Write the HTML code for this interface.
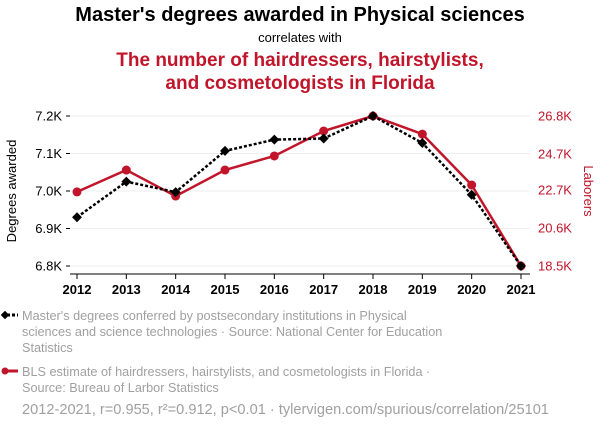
<!DOCTYPE html>
<html><head><meta charset="utf-8"><style>
body{margin:0;width:600px;height:430px;background:#fff;font-family:"Liberation Sans",sans-serif;overflow:hidden}
svg{position:absolute;left:0;top:0}
</style></head><body>
<svg id="c" width="600" height="430">
<text x="300" y="21" text-anchor="middle" font-size="20" font-weight="bold" fill="#000">Master's degrees awarded in Physical sciences</text>
<text x="300" y="42" text-anchor="middle" font-size="13" fill="#000">correlates with</text>
<text x="300" y="66" text-anchor="middle" font-size="19" font-weight="bold" fill="#c0152a">The number of hairdressers, hairstylists,</text>
<text x="300" y="89" text-anchor="middle" font-size="19" font-weight="bold" fill="#c0152a">and cosmetologists in Florida</text>
<text transform="translate(16,191) rotate(-90)" text-anchor="middle" font-size="13" fill="#000">Degrees awarded</text>
<text transform="translate(584,191) rotate(90)" text-anchor="middle" font-size="13" fill="#c0152a">Laborers</text>
<g id="grid"></g><g id="axes"></g><g id="series"></g>
<g font-size="12.7" fill="#a0a0a0">
<line x1="2" y1="315" x2="18" y2="315" stroke="#000" stroke-width="3" stroke-dasharray="3,2"/>
<rect x="2" y="312" width="6" height="6" transform="rotate(45 5 315)" fill="#000"/>
<text x="22" y="320"><tspan x="22">Master's degrees conferred by postsecondary institutions in Physical</tspan><tspan x="22" dy="16">sciences and science technologies · Source: National Center for Education</tspan><tspan x="22" dy="16">Statistics</tspan></text>
<line x1="2" y1="371" x2="18" y2="371" stroke="#c0152a" stroke-width="3"/>
<circle cx="5" cy="371" r="3.5" fill="#c0152a"/>
<text x="22" y="376"><tspan x="22">BLS estimate of hairdressers, hairstylists, and cosmetologists in Florida ·</tspan><tspan x="22" dy="16">Source: Bureau of Larbor Statistics</tspan></text>
<text x="22" y="414" font-size="14.6">2012-2021, r=0.955, r²=0.912, p&lt;0.01 · tylervigen.com/spurious/correlation/25101</text>
</g>
</svg>
<script>
const years=[2012,2013,2014,2015,2016,2017,2018,2019,2020,2021];
const degrees=[6.93,7.025,6.997,7.107,7.137,7.14,7.2,7.128,6.99,6.8];
const laborers=[22.6,23.81,22.37,23.81,24.59,25.97,26.8,25.8,22.98,18.5];
const leftTicks=[6.8,6.9,7.0,7.1,7.2];
const leftTickLabels=["6.8K","6.9K","7.0K","7.1K","7.2K"];
const rightTicks=[18.5,20.6,22.7,24.7,26.8];
const rightTickLabels=["18.5K","20.6K","22.7K","24.7K","26.8K"];
const NS="http://www.w3.org/2000/svg";
const x=i=>77+(521-77)*(i-years[0])/(years[years.length-1]-years[0]);
const yL=v=>266-(v-6.8)/(7.2-6.8)*150;
const yR=v=>266-(v-18.5)/(26.8-18.5)*150;
function mk(tag,attrs,parent,txt){const e=document.createElementNS(NS,tag);for(const k in attrs)e.setAttribute(k,attrs[k]);if(txt!==undefined)e.textContent=txt;document.getElementById(parent).appendChild(e);return e;}
leftTicks.forEach((t,i)=>{
 const g=mk('line',{x1:70,x2:530,y1:yL(t),y2:yL(t),stroke:'#eeeeee','stroke-width':1},'grid');
 
 
 const l=mk('text',{x:62,y:yL(t)+4.5,'text-anchor':'end','font-size':13,fill:'#000'},'axes',leftTickLabels[i]);
 
 
 mk('line',{x1:66,x2:70,y1:yL(t),y2:yL(t),stroke:'#000'},'axes');
});
rightTicks.forEach((t,i)=>{
 const l=mk('text',{x:538,y:yR(t)+4.5,'font-size':13,fill:'#c0152a'},'axes',rightTickLabels[i]);
 
 
});
mk('line',{x1:70,x2:530,y1:274,y2:274,stroke:'#000'},'axes');
years.forEach(yr=>{
 mk('line',{x1:x(yr),x2:x(yr),y1:274,y2:279,stroke:'#000'},'axes');
 const l=mk('text',{x:x(yr),y:294,'text-anchor':'middle','font-size':13,'font-weight':'bold',fill:'#000'},'axes',String(yr));
 
 
});
const rl=mk('polyline',{points:years.map((yr,i)=>x(yr)+','+yR(laborers[i])).join(' '),fill:'none',stroke:'#c0152a','stroke-width':2.5},'series');


years.forEach((yr,i)=>{
 const c=mk('circle',{cx:x(yr),cy:yR(laborers[i]),r:4.5,fill:'#c0152a'},'series');
 
 
});
const bl=mk('polyline',{points:years.map((yr,i)=>x(yr)+','+yL(degrees[i])).join(' '),fill:'none',stroke:'#000','stroke-width':2.5,'stroke-dasharray':'3,2'},'series');


years.forEach((yr,i)=>{
 const px=x(yr),py=yL(degrees[i]);
 const d=mk('rect',{x:px-3.5,y:py-3.5,width:7,height:7,fill:'#000',transform:`rotate(45 ${px} ${py})`},'series');
 
 
});
</script>
</body></html>
